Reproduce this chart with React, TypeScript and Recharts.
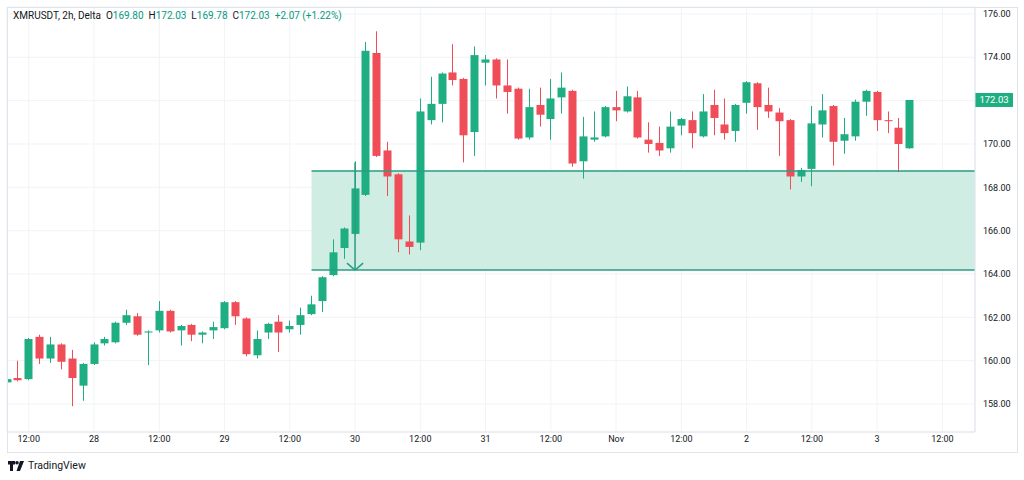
import {
  ComposedChart,
  Bar,
  XAxis,
  YAxis,
  CartesianGrid,
  ReferenceArea,
  ReferenceLine,
} from "recharts";

// XMRUSDT 2h candles, 27 Oct 08:00 -> 3 Nov 06:00
const opens = [
  159.0, 159.2, 159.15, 161.1, 160.1, 160.75, 160.1, 158.85, 159.85, 160.8,
  160.85, 161.75, 162.05, 161.3, 161.4, 162.3, 161.4, 161.65, 161.2, 161.4,
  161.5, 162.7, 161.95, 160.25, 161.3, 161.8, 161.45, 161.65, 162.15, 162.75,
  163.95, 165.2, 165.85, 167.65, 174.2, 169.7, 168.6, 165.5, 165.45, 171.1,
  171.85, 173.3, 173.0, 170.55, 173.75, 173.9, 172.7, 172.55, 170.3, 171.8,
  171.15, 172.15, 172.45, 169.2, 170.2, 170.35, 171.7, 171.5, 172.15, 170.2,
  170.05, 169.8, 170.85, 171.1, 170.35, 171.8, 170.9, 170.6, 171.9, 172.8,
  171.8, 171.45, 171.1, 168.5, 168.85, 170.9, 171.75, 170.15, 170.35, 171.95,
  172.4, 171.1, 170.75, 169.8,
];
const highs = [
  159.25, 160.0, 161.05, 161.2, 161.1, 160.8, 160.5, 159.9, 160.85, 161.1,
  161.8, 162.35, 162.2, 161.4, 162.75, 162.35, 161.65, 161.7, 161.35, 161.8,
  162.75, 162.75, 162.0, 161.4, 161.75, 162.1, 161.85, 162.45, 163.0, 163.9,
  165.6, 166.15, 169.2, 174.7, 175.2, 170.1, 168.65, 166.7, 172.1, 173.1,
  173.3, 174.6, 173.05, 174.5, 174.1, 173.95, 173.9, 172.6, 172.55, 172.6,
  173.0, 173.3, 172.5, 171.25, 171.5, 171.75, 172.45, 172.65, 172.45, 171.0,
  170.8, 171.5, 171.2, 171.5, 172.3, 172.5, 172.1, 171.85, 172.9, 172.85,
  172.6, 171.65, 171.15, 168.9, 171.75, 172.3, 171.8, 171.2, 172.05, 172.5,
  172.45, 171.5, 171.2, 172.03,
];
const lows = [
  158.95, 159.05, 159.1, 159.85, 159.9, 159.6, 157.9, 158.15, 159.8, 160.7,
  160.8, 161.65, 161.15, 159.8, 161.3, 161.3, 160.7, 160.9, 160.8, 161.0,
  161.45, 161.65, 160.2, 160.1, 161.0, 160.4, 161.3, 161.2, 162.1, 162.25,
  163.9, 164.7, 165.8, 167.6, 169.4, 167.6, 165.0, 164.9, 165.1, 170.9,
  171.0, 172.7, 169.15, 169.45, 172.7, 172.1, 171.4, 170.2, 170.2, 170.8,
  170.2, 171.4, 168.95, 168.4, 170.1, 170.3, 171.05, 171.45, 170.25, 169.6,
  169.45, 169.6, 170.4, 169.8, 170.3, 170.4, 170.2, 170.1, 171.4, 170.65,
  171.2, 169.45, 167.9, 168.25, 168.05, 170.3, 169.0, 169.55, 170.15, 171.3,
  170.6, 170.5, 168.7, 169.78,
];
const closes = [
  159.15, 159.1, 161.0, 160.1, 160.75, 159.95, 159.2, 159.85, 160.75, 161.0,
  161.75, 162.1, 161.2, 161.35, 162.3, 161.35, 161.6, 161.2, 161.3, 161.55,
  162.7, 162.05, 160.3, 161.0, 161.7, 161.3, 161.6, 162.1, 162.6, 163.85,
  165.0, 166.1, 167.95, 174.3, 169.45, 168.5, 165.6, 165.25, 171.5, 171.85,
  173.25, 172.95, 170.4, 174.1, 173.9, 172.7, 172.4, 170.25, 171.7, 171.35,
  172.1, 172.6, 169.1, 170.35, 170.3, 171.7, 171.55, 172.2, 170.3, 170.0,
  169.7, 170.8, 171.15, 170.5, 171.5, 171.2, 170.5, 171.8, 172.85, 171.7,
  171.5, 171.05, 168.5, 168.8, 170.95, 171.55, 170.1, 170.45, 171.95, 172.45,
  171.1, 171.05, 170.0, 172.03,
];

const timeTicks = [2, 8, 14, 20, 26, 32, 38, 44, 50, 56, 62, 68, 74, 80, 86];
const timeLabels = [
  "12:00", "28", "12:00", "29", "12:00", "30", "12:00", "31",
  "12:00", "Nov", "12:00", "2", "12:00", "3", "12:00",
];
const priceTicks = [158, 160, 162, 164, 166, 168, 170, 172, 174, 176];

// demand zone and arrow
const zoneStart = 28;
const zoneEnd = 89;
const zoneTop = 168.75;
const zoneBottom = 164.18;
const arrowIndex = 32;
const arrowFrom = 169.15;

const lastPrice = 172.03;

const UP = "#1fae82";
const DOWN = "#ef4d58";
const ZONE_LINE = "#2a9d83";
const FONT = "Roboto, 'Open Sans', sans-serif";

const data = opens.map((o, i) => ({
  i,
  open: o,
  high: highs[i],
  low: lows[i],
  close: closes[i],
  range: [lows[i], highs[i]],
}));

function Candle(props: any) {
  let { x, y, width, height } = props;
  const { open, close, high, low } = props.payload;
  if (height < 0) {
    y += height;
    height = -height;
  }
  const color = close >= open ? UP : DOWN;
  const k = height / (high - low || 1);
  const top = y + (high - Math.max(open, close)) * k;
  const bodyH = Math.max(1, Math.abs(open - close) * k);
  const cx = Math.round(x + width / 2) + 0.5;
  return (
    <g>
      <line x1={cx} x2={cx} y1={y} y2={y + height} stroke={color} strokeWidth={1} />
      <rect x={cx - 4} y={top} width={8} height={bodyH} fill={color} />
    </g>
  );
}

function PriceTag(props: any) {
  const vb = props.viewBox;
  const x = vb.x + vb.width;
  return (
    <g>
      <rect x={x} y={vb.y - 7} width={38} height={14} fill={UP} />
      <text
        x={x + 19}
        y={vb.y + 3.5}
        textAnchor="middle"
        fill="#fff"
        fontSize={9.5}
        fontFamily={FONT}
      >
        {lastPrice.toFixed(2)}
      </text>
    </g>
  );
}

function Header() {
  const val = { color: "#089981" };
  return (
    <div
      style={{
        position: "absolute",
        left: 13,
        top: 10,
        fontFamily: FONT,
        fontSize: 10,
        color: "#131722",
        whiteSpace: "nowrap",
      }}
    >
      XMRUSDT, 2h, Delta&nbsp;&nbsp;O<span style={val}>169.80</span>&nbsp;&nbsp;H
      <span style={val}>172.03</span>&nbsp;&nbsp;L<span style={val}>169.78</span>
      &nbsp;&nbsp;C<span style={val}>172.03</span>&nbsp;&nbsp;
      <span style={val}>+2.07 (+1.22%)</span>
    </div>
  );
}

function Logo() {
  return (
    <div
      style={{
        position: "absolute",
        left: 8,
        top: 459,
        display: "flex",
        alignItems: "center",
        gap: 4,
        fontFamily: FONT,
        fontSize: 10.5,
        color: "#131722",
      }}
    >
      <svg width={16} height={10} viewBox="0 0 16 10">
        <path d="M0 0h7v3.5H5V10H2V3.5H0z" fill="#131722" />
        <circle cx={9} cy={1.8} r={1.8} fill="#131722" />
        <path d="M12 0h4l-4 10H8.5z" fill="#131722" />
      </svg>
      <span>TradingView</span>
    </div>
  );
}

export default function App() {
  return (
    <div style={{ position: "relative", width: 1024, height: 480, background: "#fff" }}>
      <style>{"body{margin:0}"}</style>
      <ComposedChart
        width={1024}
        height={480}
        data={data}
        margin={{ top: 7, right: 7, left: 7, bottom: 28 }}
      >
        <CartesianGrid stroke="#f1f3f6" />
        <ReferenceArea
          x1={zoneStart}
          x2={zoneEnd}
          y1={zoneBottom}
          y2={zoneTop}
          fill="#d0ede4"
          fillOpacity={1}
          stroke="none"
        />
        <XAxis
          type="number"
          dataKey="i"
          domain={[0, 89]}
          ticks={timeTicks}
          interval={0}
          allowDataOverflow
          height={20}
          tickSize={0}
          tickMargin={4}
          stroke="#e0e3eb"
          tick={{ fill: "#131722", fontSize: 9, fontFamily: FONT }}
          tickFormatter={(v: number) => timeLabels[timeTicks.indexOf(v)] ?? ""}
        />
        <YAxis
          type="number"
          orientation="right"
          domain={[156.71, 176.32]}
          ticks={priceTicks}
          interval={0}
          allowDataOverflow
          width={42}
          tickSize={0}
          tickMargin={8}
          stroke="#e0e3eb"
          tick={{ fill: "#131722", fontSize: 9, fontFamily: FONT }}
          // the last-price tag covers the 172 label, as on the original
          tickFormatter={(v: number) =>
            Math.abs(v - lastPrice) < 0.3 ? "" : v.toFixed(2)
          }
        />
        <Bar
          dataKey="range"
          barSize={8}
          shape={<Candle />}
          isAnimationActive={false}
        />
        <ReferenceLine
          segment={[{ x: zoneStart, y: zoneTop }, { x: zoneEnd, y: zoneTop }]}
          stroke={ZONE_LINE}
          strokeWidth={1.5}
        />
        <ReferenceLine
          segment={[{ x: zoneStart, y: zoneBottom }, { x: zoneEnd, y: zoneBottom }]}
          stroke={ZONE_LINE}
          strokeWidth={1.5}
        />
        <ReferenceLine
          segment={[{ x: arrowIndex, y: arrowFrom }, { x: arrowIndex, y: zoneBottom }]}
          stroke={ZONE_LINE}
          strokeWidth={1.5}
        />
        <ReferenceLine
          segment={[{ x: arrowIndex - 0.74, y: zoneBottom + 0.32 }, { x: arrowIndex, y: zoneBottom }]}
          stroke={ZONE_LINE}
          strokeWidth={1.5}
        />
        <ReferenceLine
          segment={[{ x: arrowIndex + 0.74, y: zoneBottom + 0.32 }, { x: arrowIndex, y: zoneBottom }]}
          stroke={ZONE_LINE}
          strokeWidth={1.5}
        />
        <ReferenceLine y={lastPrice} stroke="none" label={<PriceTag />} />
      </ComposedChart>
      <div
        style={{
          position: "absolute",
          left: 7,
          top: 7,
          width: 1009,
          height: 444,
          border: "1px solid #e0e3eb",
          pointerEvents: "none",
        }}
      />
      <Header />
      <Logo />
    </div>
  );
}
